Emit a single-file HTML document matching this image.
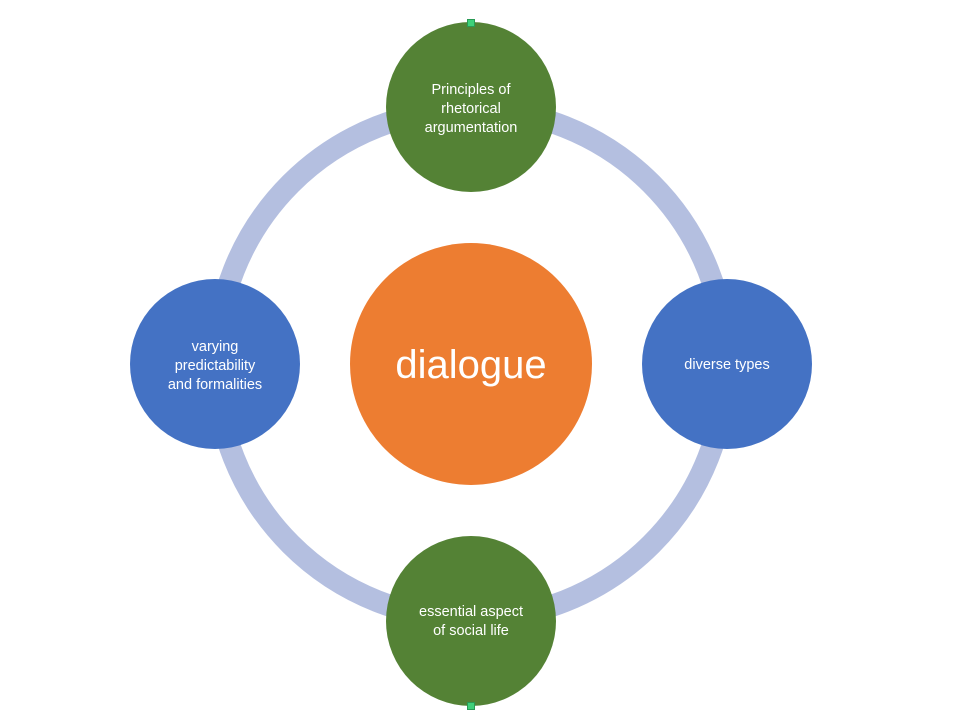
<!DOCTYPE html>
<html><head><meta charset="utf-8"><style>
html,body{margin:0;padding:0;background:#fff;}
svg{display:block;}
text{font-family:"Liberation Sans",sans-serif;fill:#fff;text-anchor:middle;}
</style></head><body>
<svg width="960" height="720" viewBox="0 0 960 720">
<circle cx="471" cy="364" r="255" fill="none" stroke="#b4bfe0" stroke-width="22"/>
<circle cx="471" cy="364" r="121" fill="#ed7d31"/>
<text x="471" y="378" font-size="40">dialogue</text>
<circle cx="471" cy="107" r="85" fill="#548235"/>
<text font-size="14.5"><tspan x="471" y="94">Principles of</tspan><tspan x="471" y="113">rhetorical</tspan><tspan x="471" y="132">argumentation</tspan></text>
<circle cx="471" cy="621" r="85" fill="#548235"/>
<text font-size="14.5"><tspan x="471" y="616">essential aspect</tspan><tspan x="471" y="635">of social life</tspan></text>
<circle cx="215" cy="364" r="85" fill="#4472c4"/>
<text font-size="14.5"><tspan x="215" y="351">varying</tspan><tspan x="215" y="370">predictability</tspan><tspan x="215" y="389">and formalities</tspan></text>
<circle cx="727" cy="364" r="85" fill="#4472c4"/>
<text x="727" y="369" font-size="14.5">diverse types</text>
<rect x="467.5" y="19.5" width="7" height="7" fill="#3fd07a" stroke="#2a9a55" stroke-width="1"/>
<rect x="467.5" y="702.5" width="7" height="7" fill="#3fd07a" stroke="#2a9a55" stroke-width="1"/>
</svg>
</body></html>
